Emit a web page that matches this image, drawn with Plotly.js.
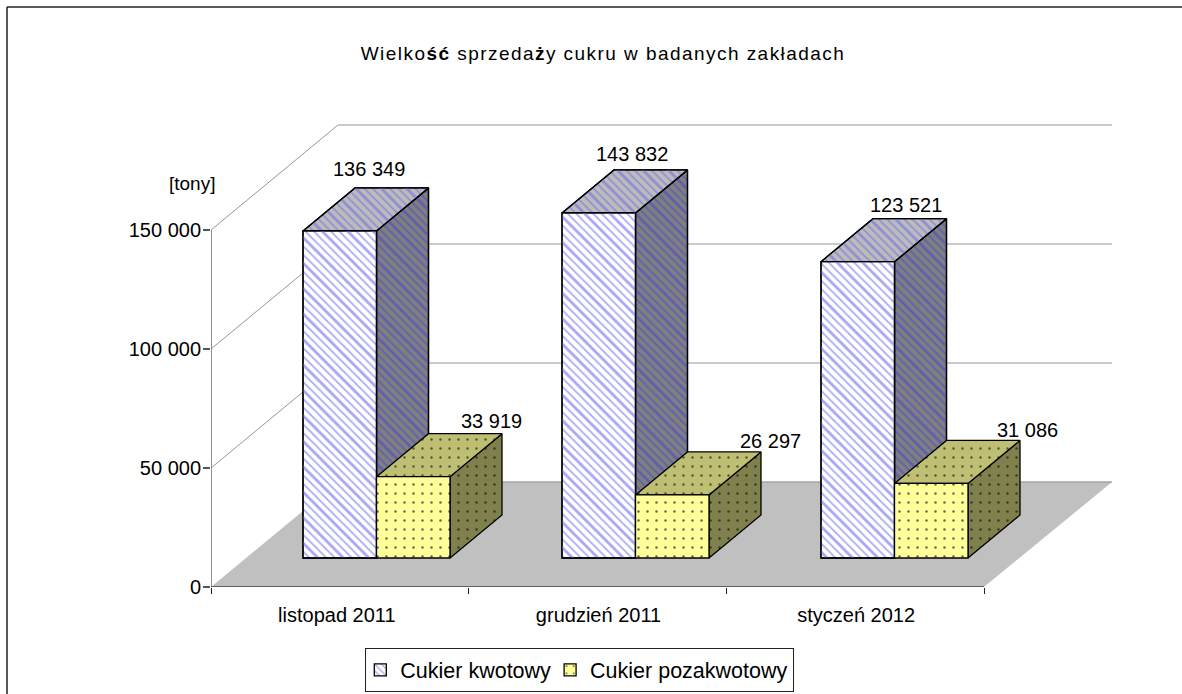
<!DOCTYPE html>
<html><head><meta charset="utf-8">
<script src="https://cdn.plot.ly/plotly-3.0.1.min.js"></script>
<style>html,body{margin:0;padding:0;background:#fff}
.gtitle{letter-spacing:1.45px}</style>
</head><body><div id="c" style="width:1182px;height:694px"></div>
<script>
const categories = ['listopad 2011','grudzień 2011','styczeń 2012'];
const quota = [136349,143832,123521];
const nonQuota = [33919,26297,31086];
const quotaLabels = ['136 349','143 832','123 521'];
const nonQuotaLabels = ['33 919','26 297','31 086'];
const yTicks = [0,50000,100000,150000];
const yTickLabels = ['0','50 000','100 000','150 000'];

// plot geometry
const L=211,T=120,W=901,H=467;
const catPx=(984-211)/3, valPx=357/150000;
const xMax=W/catPx, yMax=H/valPx;
const px=d=>d/catPx, py=d=>d/valPx;
const wallDx=px(127), wallDy=py(105);
const gapDy=py(29);
const barDx=px(52), barDy=py(43);
const barW=px(73.5), groupStart=px(92), groupStep=px(259);
const frontScale=1.008;
// hand-placed label nudges, in pixels (x right, y up)
const quotaNudgeX=[0,4.5,19], quotaNudgeY=[0,-3,-5];
const nonQuotaNudgeX=[0,20.5,18.5], nonQuotaNudgeY=[2,0,-1];
const catLabelNudge=[-3,1,1];

const traces=[];
const plain=(x,y,color,width)=>({type:'scatter',mode:'lines',x,y,line:{color,width},showlegend:false,hoverinfo:'skip'});
// floor
traces.push({...plain([0,wallDx,xMax,3,0],[0,wallDy,wallDy,0,0],'#c0c0c0',0),fill:'toself',fillcolor:'#c0c0c0'});
// grid on walls
let gx=[],gy=[];
yTicks.slice(1).forEach(v=>{gx.push(0,wallDx,xMax,null);gy.push(v,v+wallDy,v+wallDy,null)});
traces.push(plain(gx,gy,'#969696',1));
traces.push(plain([wallDx,xMax],[wallDy,wallDy],'#a6a6a6',1.5));
// axis lines
traces.push(plain([0,0],[0,150000],'#707070',1.5));
traces.push(plain([0,3],[0,0],'#000',1.2));

const TR='rgba(0,0,0,0)';
function face(xs,ys,bg,fg,s,z){
  const t=[{type:'scatter',mode:'lines',x:xs,y:ys,fill:'toself',fillcolor:bg,
    fillpattern:{shape:s.shape,bgcolor:bg,fgcolor:fg,size:s.size,solidity:s.sol},
    line:{color:'#000',width:1.3},showlegend:false,hoverinfo:'skip',zorder:z}];
  if(s.size2) t.push({type:'scatter',mode:'lines',x:xs,y:ys,fill:'toself',fillcolor:TR,
    fillpattern:{shape:s.shape,bgcolor:TR,fgcolor:fg,size:s.size2,solidity:s.sol2},
    line:{color:'#000',width:1.3},showlegend:false,hoverinfo:'skip',zorder:z});
  traces.push(...t);
}
function box(x0,vals,i,s,z){
  const x1=x0+barW, b=gapDy, t=b+vals[i]*frontScale;
  face([x1,x1+barDx,x1+barDx,x1,x1],[b,b+barDy,t+barDy,t,b],s.sideBg,s.sideFg,s,z);
  face([x0,x1,x1+barDx,x0+barDx,x0],[t,t,t+barDy,t+barDy,t],s.topBg,s.topFg,s,z);
}
const blue={shape:'\\',size:6,sol:0.28,size2:18,sol2:0.15,frontBg:'#ffffff',frontFg:'#a8a8f5',topBg:'#bcbcbc',topFg:'#8f8fd6',sideBg:'#7f7f7f',sideFg:'#5f5fb0'};
const yel={shape:'.',size:9,sol:0.06,frontBg:'#ffff99',frontFg:'#66664d',topBg:'#bfbf73',topFg:'#56563f',sideBg:'#80804d',sideFg:'#38382c'};

categories.forEach((c,i)=>{ box(groupStart+i*groupStep,quota,i,blue,1); });
categories.forEach((c,i)=>{ box(groupStart+i*groupStep+barW,nonQuota,i,yel,3); });

const barX=categories.map((c,i)=>groupStart+i*groupStep+barW/2);
traces.push({type:'bar',name:'Cukier kwotowy',x:barX,y:quota.map(v=>v*frontScale),base:quota.map(()=>gapDy),width:barW,zorder:2,
  marker:{color:blue.frontBg,line:{color:'#000',width:1.3},pattern:{shape:'\\',size:blue.size,solidity:blue.sol,fgcolor:blue.frontFg,bgcolor:blue.frontBg}},hoverinfo:'skip'});
traces.push({type:'bar',showlegend:false,x:barX,y:quota.map(v=>v*frontScale),base:quota.map(()=>gapDy),width:barW,zorder:2,
  marker:{color:TR,line:{color:'#000',width:1.3},pattern:{shape:'\\',size:blue.size2,solidity:blue.sol2,fgcolor:blue.frontFg,bgcolor:TR}},hoverinfo:'skip'});
traces.push({type:'bar',name:'Cukier pozakwotowy',x:barX.map(v=>v+barW),y:nonQuota.map(v=>v*frontScale),base:nonQuota.map(()=>gapDy),width:barW,zorder:4,
  marker:{color:yel.frontBg,line:{color:'#000',width:1.3},pattern:{shape:'.',size:yel.size,solidity:yel.sol,fgcolor:yel.frontFg,bgcolor:yel.frontBg}},hoverinfo:'skip'});

// data labels
const font={family:'Liberation Sans, Arial, sans-serif',color:'#000'};
const anns=[];
categories.forEach((c,i)=>{
  const x0=groupStart+i*groupStep;
  anns.push({x:x0+barW+px(-8+quotaNudgeX[i]),y:gapDy+quota[i]*frontScale+py(62+quotaNudgeY[i]),text:quotaLabels[i],showarrow:false,font:{...font,size:20},xanchor:'center',yanchor:'middle'});
  anns.push({x:x0+2*barW+px(41+nonQuotaNudgeX[i]),y:gapDy+nonQuota[i]*frontScale+py(54+nonQuotaNudgeY[i]),text:nonQuotaLabels[i],showarrow:false,font:{...font,size:20},xanchor:'center',yanchor:'middle'});
});
anns.push({xref:'paper',yref:'paper',x:(192-L)/W,y:(T+H-183)/H,text:'[tony]',showarrow:false,font:{...font,size:19},xanchor:'center',yanchor:'middle'});

const layout={
  width:1182,height:694,autosize:false,paper_bgcolor:'#fff',plot_bgcolor:'rgba(0,0,0,0)',
  margin:{l:L,t:T,r:1182-L-W,b:694-T-H,pad:0,autoexpand:false},
  title:{text:'Wielko<b>ść</b> sprzeda<b>ż</b>y cukru w badanych zakładach',font:{...font,size:19},x:603/1182,xanchor:'center',y:1-53/694,yanchor:'middle',automargin:false},
  barmode:'overlay',
  xaxis:{range:[0,xMax],tickmode:'array',tickvals:categories.map((c,i)=>i+0.5+px(catLabelNudge[i])),ticktext:categories,ticks:'',showgrid:false,zeroline:false,showline:false,automargin:false,
    tickfont:{...font,size:20},ticklen:0,tickangle:0,ticklabelstandoff:14,
    minor:{tickmode:'array',tickvals:[0,1,2,3],ticks:'outside',ticklen:6,tickcolor:'#222',tickwidth:1,showgrid:false}},
  yaxis:{range:[0,yMax],tickmode:'array',tickvals:yTicks,ticktext:yTickLabels,ticks:'outside',ticklen:7,tickcolor:'#555',tickwidth:1.2,showgrid:false,zeroline:false,showline:false,automargin:false,
    tickfont:{...font,size:20},ticklabelstandoff:-2},
  legend:{orientation:'h',x:(365-L)/W,y:(T+H-648)/H,xanchor:'left',yanchor:'top',bgcolor:'#fff',bordercolor:'#222',borderwidth:1.3,font:{...font,size:21.5},traceorder:'normal',indentation:-6},
  annotations:anns,
  shapes:[
    {type:'line',xref:'paper',yref:'paper',x0:(7-L)/W,x1:(7-L)/W,y0:(T+H-694)/H,y1:(T+H-7)/H,line:{color:'#222',width:1.5}},
    {type:'line',xref:'paper',yref:'paper',x0:(7-L)/W,x1:(1182-L)/W,y0:(T+H-7)/H,y1:(T+H-7)/H,line:{color:'#222',width:1.5}}
  ]
};
Plotly.newPlot('c',traces,layout,{displayModeBar:false,staticPlot:true});
</script></body></html>
